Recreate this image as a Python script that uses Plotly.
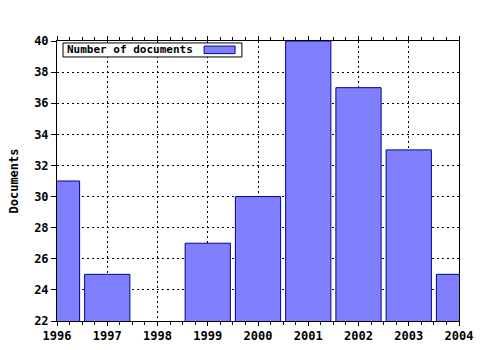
import plotly.graph_objects as go

years = [1996, 1997, 1998, 1999, 2000, 2001, 2002, 2003, 2004]
documents = [31, 25, 21, 27, 30, 40, 37, 33, 25]
series_name = "Number of documents"
y_title = "Documents"

FILL = "#8080ff"
EDGE = "#000099"
FONT = "DejaVu Sans Mono"

fig = go.Figure()
fig.add_trace(go.Bar(
    x=years, y=documents, name=series_name, width=0.9,
    marker=dict(color=FILL, line=dict(color=EDGE, width=1)),
    showlegend=False,
))

fig.update_layout(
    width=480, height=350,
    margin=dict(l=57, r=21, t=41, b=29, autoexpand=False),
    paper_bgcolor="white", plot_bgcolor="white",
    font=dict(family=FONT, color="black", size=12),
    bargap=0.1,
    xaxis=dict(
        range=[1996, 2004], tickmode="linear", tick0=1996, dtick=1,
        showline=True, linecolor="black", linewidth=1, mirror="ticks",
        ticks="outside", ticklen=4, tickcolor="black", automargin=False,
        tickfont=dict(family=FONT, size=12, weight="bold"),
        showgrid=True, gridcolor="black", griddash="2px,3px", gridwidth=1,
        minor=dict(dtick=0.25, tick0=1996, ticks="outside", ticklen=3, tickcolor="black", showgrid=False),
        zeroline=False,
    ),
    yaxis=dict(
        range=[22, 40], tickmode="linear", tick0=22, dtick=2,
        showline=True, linecolor="black", linewidth=1, mirror=True,
        ticks="outside", ticklen=5, tickcolor="black", automargin=False,
        tickfont=dict(family=FONT, size=12, weight="bold"),
        showgrid=True, gridcolor="black", griddash="2px,3px", gridwidth=1,
        zeroline=False,
        title=dict(text=y_title, font=dict(family=FONT, size=12, weight="bold"), standoff=12),
    ),
)

# custom legend box (swatch on the right, as in the reference)
fig.add_shape(type="rect", xref="paper", yref="paper",
              x0=0.015, x1=0.46, y0=0.943, y1=0.993,
              line=dict(color="black", width=1), fillcolor="white", layer="above")
fig.add_shape(type="rect", xref="paper", yref="paper",
              x0=0.366, x1=0.443, y0=0.955, y1=0.982,
              line=dict(color=EDGE, width=1), fillcolor=FILL, layer="above")
fig.add_annotation(xref="paper", yref="paper", x=0.02, y=0.968,
                   xanchor="left", yanchor="middle", showarrow=False,
                   text=series_name, font=dict(family=FONT, size=11, weight="bold"))

fig.write_html("out.html")
